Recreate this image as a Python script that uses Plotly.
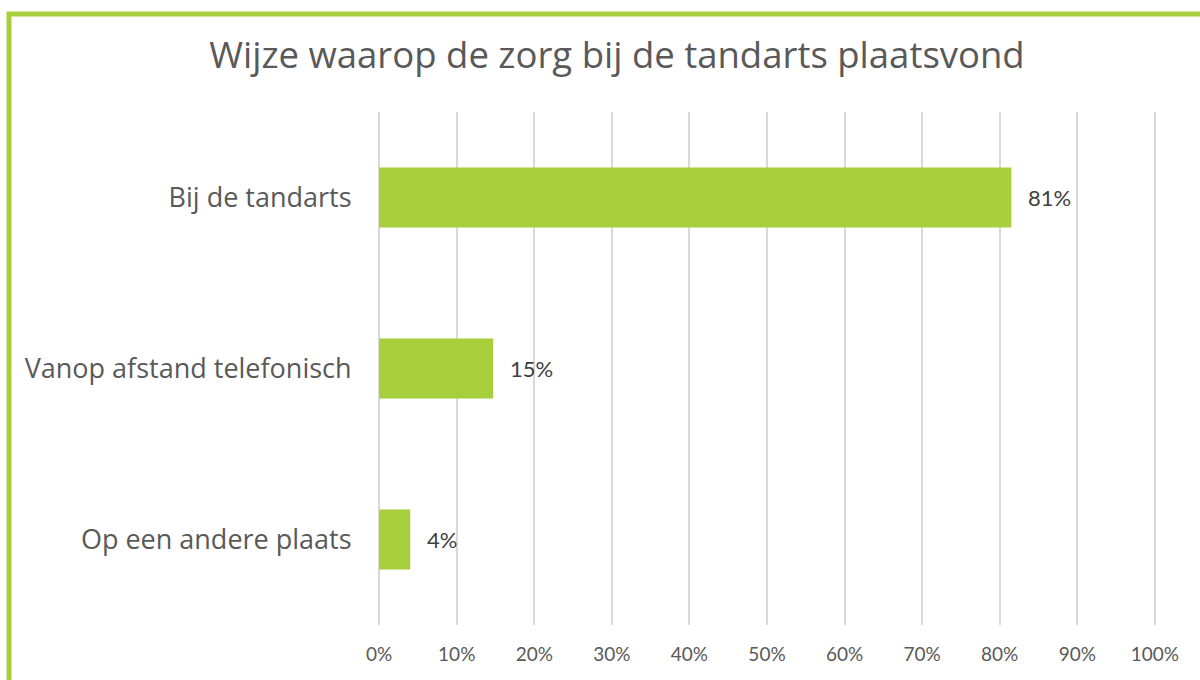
import plotly.graph_objects as go

categories = ["Bij de tandarts", "Vanop afstand telefonisch", "Op een andere plaats"]
values = [81.5, 14.7, 4.0]
labels = ["81%", "15%", "4%"]
tick_vals = [0, 10, 20, 30, 40, 50, 60, 70, 80, 90, 100]
tick_text = ["0%", "10%", "20%", "30%", "40%", "50%", "60%", "70%", "80%", "90%", "100%"]

GREEN = "#A7CE3B"
FONT_NUM = "Lato, 'Open Sans', sans-serif"
FONT_TXT = "'Open Sans', Lato, sans-serif"

fig = go.Figure()
fig.add_trace(go.Bar(
    y=categories,
    x=values,
    orientation="h",
    marker=dict(color=GREEN, line=dict(width=0)),
    width=0.35,
    hoverinfo="skip",
))

for cat, val, lab in zip(categories, values, labels):
    fig.add_annotation(
        x=val, y=cat, xref="x", yref="y",
        text=lab, showarrow=False,
        xanchor="left", yanchor="middle",
        xshift=15,
        font=dict(size=22, color="#404040", family=FONT_NUM),
    )

fig.update_layout(
    width=1200, height=680,
    margin=dict(l=378, r=44, t=112, b=55, autoexpand=False),
    paper_bgcolor="white",
    plot_bgcolor="white",
    showlegend=False,
    title=dict(
        text="Wijze waarop de zorg bij de tandarts plaatsvond",
        x=617 / 1200, xanchor="center",
        y=1 - 55 / 680, yanchor="middle",
        font=dict(size=36.5, color="#595959", family=FONT_TXT),
    ),
    xaxis=dict(
        range=[-0.15, 100.15],
        tickvals=tick_vals,
        ticktext=tick_text,
        showgrid=True,
        gridcolor="#D9D9D9",
        gridwidth=2,
        zeroline=False,
        showline=False,
        ticks="outside",
        ticklen=12,
        tickcolor="rgba(0,0,0,0)",
        tickfont=dict(size=19, color="#595959", family=FONT_NUM),
        fixedrange=True,
    ),
    yaxis=dict(
        categoryorder="array",
        categoryarray=categories[::-1],
        showgrid=False,
        zeroline=False,
        showline=False,
        ticks="outside",
        ticklen=20,
        tickcolor="rgba(0,0,0,0)",
        tickfont=dict(size=27, color="#595959", family=FONT_TXT),
        fixedrange=True,
    ),
)

# green frame (left and top edges visible, continues beyond canvas)
fig.add_shape(
    type="rect", xref="paper", yref="paper",
    x0=(9 - 378) / 778, x1=1.2,
    y0=-0.3, y1=(625 - 14) / 513,
    line=dict(color=GREEN, width=5),
    fillcolor="rgba(0,0,0,0)",
    layer="below",
)

fig.write_html(
    "out.html",
    config={"displayModeBar": False},
    post_script="document.body.style.margin='0';document.body.style.overflow='hidden';",
)
